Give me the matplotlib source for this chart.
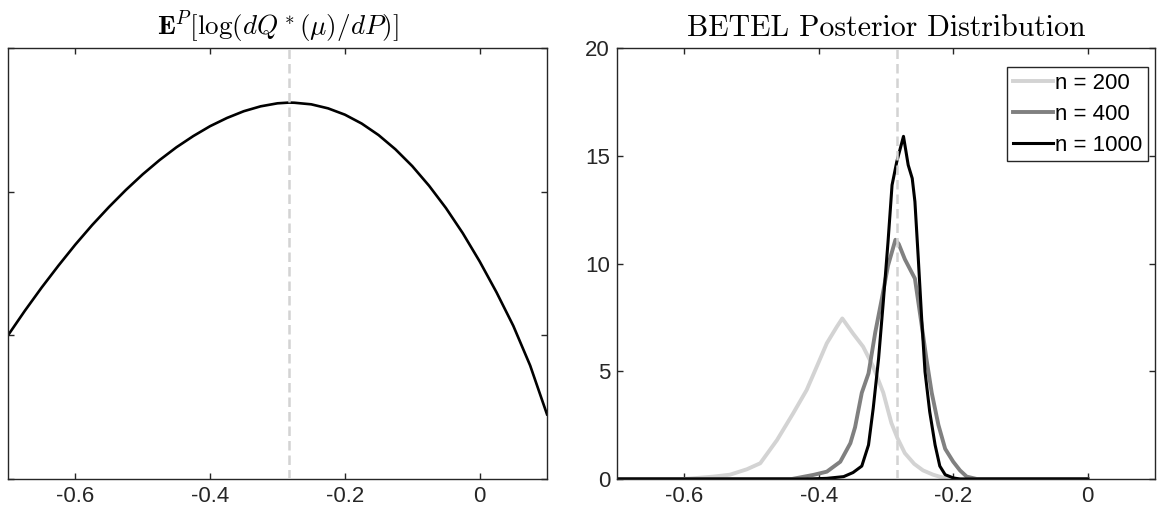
import matplotlib
matplotlib.use('Agg')
import matplotlib.pyplot as plt

plt.rcParams['font.family'] = ['Liberation Sans', 'DejaVu Sans']
plt.rcParams['mathtext.fontset'] = 'cm'
plt.rcParams['axes.unicode_minus'] = False
plt.rcParams['axes.formatter.use_mathtext'] = False

# true value (dashed line)
mu0 = -0.283

# left panel: expected log-likelihood curve
elx = [-0.700, -0.675, -0.650, -0.625, -0.600, -0.575, -0.550, -0.525, -0.500, -0.475,
       -0.450, -0.425, -0.400, -0.375, -0.350, -0.325, -0.300, -0.283, -0.275, -0.250,
       -0.225, -0.200, -0.175, -0.150, -0.125, -0.100, -0.075, -0.050, -0.025, 0.000,
       0.025, 0.050, 0.075, 0.100]
ely = [1.00, 1.171, 1.333, 1.486, 1.632, 1.768, 1.894, 2.012, 2.121, 2.220,
       2.309, 2.387, 2.456, 2.513, 2.560, 2.594, 2.615, 2.62, 2.619, 2.608,
       2.580, 2.536, 2.474, 2.394, 2.295, 2.178, 2.041, 1.886, 1.711, 1.515,
       1.300, 1.066, 0.79, 0.45]

# right panel: posterior densities
n200_x = [-0.70, -0.60, -0.557, -0.532, -0.507, -0.487, -0.462, -0.438, -0.418, -0.403,
          -0.388, -0.373, -0.365, -0.357, -0.349, -0.334, -0.319, -0.304, -0.292, -0.283,
          -0.272, -0.258, -0.245, -0.230, -0.215, -0.200, 0.0]
n200_y = [0, 0, 0.11, 0.2, 0.45, 0.73, 1.81, 3.05, 4.13, 5.21,
          6.30, 7.07, 7.45, 7.1, 6.75, 6.14, 5.21, 4.0, 2.6, 1.9,
          1.2, 0.7, 0.4, 0.2, 0.06, 0, 0]

n400_x = [-0.70, -0.44, -0.408, -0.388, -0.368, -0.353, -0.346, -0.336, -0.326, -0.316,
          -0.306, -0.297, -0.286, -0.281, -0.272, -0.257, -0.247, -0.240, -0.232, -0.222,
          -0.212, -0.200, -0.190, -0.180, -0.165, 0.0]
n400_y = [0, 0, 0.19, 0.34, 0.80, 1.66, 2.4, 4.0, 4.9, 6.8,
          8.4, 9.9, 11.1, 10.9, 10.2, 9.3, 7.15, 5.6, 4.0, 2.5,
          1.4, 0.8, 0.4, 0.11, 0, 0]

n1000_x = [-0.70, -0.42, -0.388, -0.363, -0.349, -0.336, -0.326, -0.319, -0.311, -0.304,
           -0.297, -0.291, -0.284, -0.274, -0.267, -0.261, -0.257, -0.252, -0.247, -0.242,
           -0.235, -0.227, -0.220, -0.212, -0.200, -0.190, 0.0]
n1000_y = [0, 0, 0.03, 0.11, 0.3, 0.6, 1.58, 3.28, 5.60, 8.23,
           11.0, 13.64, 14.72, 15.9, 14.57, 13.95, 12.87, 10.24, 7.46, 4.98,
           3.12, 1.58, 0.6, 0.2, 0.05, 0, 0]

xticks = [-0.6, -0.4, -0.2, 0]
xtick_labels = ['-0.6', '-0.4', '-0.2', '0']

fig = plt.figure(figsize=(11.59, 5.14), dpi=100)
ax1 = fig.add_axes([8 / 1159, 1 - 479 / 514, 539 / 1159, 431 / 514])
ax2 = fig.add_axes([617 / 1159, 1 - 479 / 514, 538 / 1159, 431 / 514])

for ax in (ax1, ax2):
    for s in ax.spines.values():
        s.set_color('#262626')
        s.set_linewidth(1.0)
    ax.tick_params(direction='in', top=True, right=True, length=4, width=1.0,
                   color='#262626', labelsize=16, pad=5, labelcolor='#262626')
    ax.set_xlim(-0.7, 0.1)
    ax.set_xticks(xticks)
    ax.set_xticklabels(xtick_labels)

# left
ax1.plot(elx, ely, color='black', linewidth=1.9)
ax1.axvline(mu0, color='#d3d3d3', linewidth=1.8, dashes=(3.8, 2.0), zorder=5)
ax1.set_ylim(0, 3)
ax1.set_yticks([0, 1, 2, 3])
ax1.set_yticklabels([])
ax1.set_title(r'$\mathbf{E}^P[\log(dQ^*(\mu)/dP)]$', fontsize=19.5, pad=9)

# right
ax2.plot(n200_x, n200_y, color='#d3d3d3', linewidth=2.8, label='n = 200')
ax2.plot(n400_x, n400_y, color='#808080', linewidth=2.8, label='n = 400')
ax2.plot(n1000_x, n1000_y, color='black', linewidth=2.2, label='n = 1000')
ax2.axvline(mu0, color='#d3d3d3', linewidth=1.8, dashes=(3.8, 2.0), zorder=5)
ax2.set_ylim(0, 20)
ax2.set_yticks([0, 5, 10, 15, 20])
ax2.set_title('BETEL Posterior Distribution', fontname='cmr10', fontsize=21.5, pad=9)
leg = ax2.legend(loc='upper right', bbox_to_anchor=(0.987, 0.956), borderaxespad=0,
                 fontsize=16, handlelength=1.8, handletextpad=0.1, labelspacing=0.45,
                 borderpad=0.25, fancybox=False, framealpha=1)
leg.get_frame().set_edgecolor('#262626')
leg.get_frame().set_linewidth(1.0)

plt.savefig('out.png', dpi=100)
